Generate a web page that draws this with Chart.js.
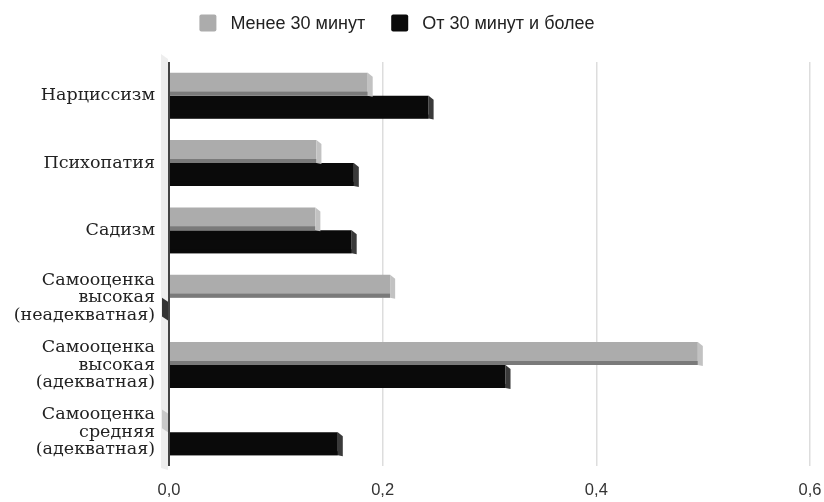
<!DOCTYPE html>
<html>
<head>
<meta charset="utf-8">
<script src="https://cdn.jsdelivr.net/npm/chart.js@4.4.1/dist/chart.umd.min.js"></script>
<style>
  html, body { margin: 0; padding: 0; background: #ffffff; }
  #wrap { width: 824px; height: 502px; }
</style>
</head>
<body>
<div id="wrap"><canvas id="c" width="824" height="502"></canvas></div>
<script>
// Categories (multi-line labels are arrays)
const categories = [
  'Нарциссизм',
  'Психопатия',
  'Садизм',
  ['Самооценка', 'высокая', '(неадекватная)'],
  ['Самооценка', 'высокая', '(адекватная)'],
  ['Самооценка', 'средняя', '(адекватная)']
];

const seriesNames = ['Менее 30 минут', 'От 30 минут и более'];
const lessThan30 = [0.186, 0.138, 0.137, 0.207, 0.495, 0];
const from30 = [0.243, 0.173, 0.171, 0, 0.315, 0.158];
const tickValues = [0, 0.2, 0.4, 0.6];

const frontColors = ['#acacac', '#0a0a0a'];
const sideColors = ['#c2c2c2', '#3a3a3a'];
const edgeColors = ['#7a7a7a', '#0a0a0a'];

// Light "wall" strip left of the zero line, drawn before the bars
const wallPlugin = {
  id: 'wall',
  beforeDatasetsDraw(chart) {
    const { ctx, chartArea } = chart;
    const x0 = chart.scales.x.getPixelForValue(0);
    ctx.save();
    ctx.fillStyle = '#eeeeee';
    ctx.beginPath();
    ctx.moveTo(x0 - 8, chartArea.top - 8);
    ctx.lineTo(x0 - 1, chartArea.top - 3);
    ctx.lineTo(x0 - 1, chartArea.bottom + 4);
    ctx.lineTo(x0 - 8, chartArea.bottom + 2);
    ctx.closePath();
    ctx.fill();
    ctx.restore();
  }
};

// Side and bottom faces that give the bars their depth
const depthPlugin = {
  id: 'depth',
  afterDatasetsDraw(chart) {
    const { ctx } = chart;
    ctx.save();
    chart.data.datasets.forEach((ds, di) => {
      const meta = chart.getDatasetMeta(di);
      meta.data.forEach((el, i) => {
        const top = el.y - el.height / 2;
        const bottom = el.y + el.height / 2;
        const xEnd = el.x;
        const base = el.base;
        if (ds.data[i] === 0) {
          ctx.fillStyle = di === 0 ? '#c8c8c8' : '#333333';
          ctx.beginPath();
          ctx.moveTo(base - 7, top);
          ctx.lineTo(base - 1, top + 4);
          ctx.lineTo(base - 1, bottom);
          ctx.lineTo(base - 7, bottom - 4);
          ctx.closePath();
          ctx.fill();
          return;
        }
        // bottom edge band
        ctx.fillStyle = edgeColors[di];
        ctx.fillRect(base, bottom - 4, xEnd - base, 4);
        // right side face
        ctx.fillStyle = sideColors[di];
        ctx.beginPath();
        ctx.moveTo(xEnd, top);
        ctx.lineTo(xEnd + 5, top + 4);
        ctx.lineTo(xEnd + 5, bottom + 1);
        ctx.lineTo(xEnd, bottom);
        ctx.closePath();
        ctx.fill();
      });
    });
    ctx.restore();
  }
};

// Legend row at the top
const legendPlugin = {
  id: 'topLegend',
  afterDraw(chart) {
    const { ctx } = chart;
    ctx.save();
    ctx.font = '18px "Liberation Sans", Arial, sans-serif';
    ctx.textBaseline = 'middle';
    const box = 17, gapBox = 14, gapItem = 26;
    let total = 0;
    const widths = seriesNames.map(n => ctx.measureText(n).width);
    widths.forEach((w, i) => { total += box + gapBox + w + (i ? gapItem : 0); });
    let x = 397 - total / 2;
    const y = 23;
    seriesNames.forEach((name, i) => {
      ctx.fillStyle = frontColors[i];
      ctx.beginPath();
      ctx.roundRect(x, y - box / 2, box, box, 2);
      ctx.fill();
      x += box + gapBox;
      ctx.fillStyle = '#222222';
      ctx.fillText(name, x, y + 1);
      x += widths[i] + gapItem;
    });
    ctx.restore();
  }
};

new Chart(document.getElementById('c'), {
  type: 'bar',
  data: {
    labels: categories,
    datasets: [
      { label: seriesNames[0], data: lessThan30, backgroundColor: frontColors[0] },
      { label: seriesNames[1], data: from30, backgroundColor: frontColors[1] }
    ]
  },
  options: {
    indexAxis: 'y',
    responsive: false,
    animation: false,
    devicePixelRatio: 1,
    layout: { padding: { top: 62, right: 14, bottom: 0, left: 0 } },
    datasets: { bar: { categoryPercentage: 0.68, barPercentage: 1.0 } },
    plugins: {
      legend: { display: false },
      tooltip: { enabled: false }
    },
    scales: {
      x: {
        min: 0,
        max: 0.6,
        afterBuildTicks(scale) { scale.ticks = tickValues.map(v => ({ value: v })); },
        border: { display: false },
        grid: {
          drawTicks: false,
          color: ctx => ctx.index === 0 ? '#444444' : '#dddddd',
          lineWidth: ctx => ctx.index === 0 ? 2 : 1.5
        },
        ticks: {
          padding: 15,
          color: '#333333',
          font: { family: '"Liberation Sans", Arial, sans-serif', size: 16.5 },
          callback: v => Number(v).toFixed(1).replace('.', ',')
        },
        afterFit(scale) {
          scale.height = 36;
          scale.paddingLeft = 0;
          scale.paddingRight = 0;
        }
      },
      y: {
        border: { display: false },
        grid: { display: false, drawTicks: false },
        ticks: {
          padding: 14,
          color: '#222222',
          font: { family: '"DejaVu Serif", serif', size: 17.5, lineHeight: 1.0 }
        },
        afterFit(scale) { scale.width = 169; }
      }
    }
  },
  plugins: [wallPlugin, depthPlugin, legendPlugin]
});
</script>
</body>
</html>
